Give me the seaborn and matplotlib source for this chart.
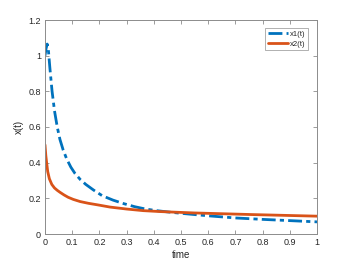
import numpy as np
import pandas as pd
import matplotlib
matplotlib.use("Agg")
import matplotlib.pyplot as plt
import seaborn as sns

# Data
t1 = [0, 0.004, 0.008, 0.012, 0.018, 0.026, 0.035, 0.045, 0.055, 0.067, 0.08, 0.095,
      0.11, 0.13, 0.15, 0.178, 0.21, 0.25, 0.29, 0.33, 0.37, 0.41, 0.45, 0.5, 0.6,
      0.7, 0.8, 0.9, 1.0]
x1 = [1.0, 1.04, 1.065, 1.04, 0.93, 0.8, 0.69, 0.6, 0.53, 0.47, 0.42, 0.375,
      0.34, 0.305, 0.278, 0.247, 0.215, 0.19, 0.17, 0.153, 0.14, 0.131, 0.124, 0.116, 0.102,
      0.09, 0.082, 0.075, 0.068]
t2 = [0, 0.003, 0.006, 0.01, 0.016, 0.025, 0.035, 0.045, 0.055, 0.07, 0.085, 0.104,
      0.129, 0.16, 0.195, 0.239, 0.3, 0.361, 0.42, 0.484, 0.55, 0.62, 0.69, 0.76, 0.84,
      0.92, 1.0]
x2 = [0.5, 0.44, 0.4, 0.35, 0.31, 0.278, 0.258, 0.245, 0.234, 0.219, 0.206, 0.194,
      0.182, 0.172, 0.163, 0.151, 0.14, 0.131, 0.126, 0.122, 0.118, 0.115, 0.112, 0.109,
      0.106, 0.103, 0.1]
series_names = ["x1(t)", "x2(t)"]
xticks = [0, 0.1, 0.2, 0.3, 0.4, 0.5, 0.6, 0.7, 0.8, 0.9, 1]
xtick_labels = ["0", "0.1", "0.2", "0.3", "0.4", "0.5", "0.6", "0.7", "0.8", "0.9", "1"]
yticks = [0, 0.2, 0.4, 0.6, 0.8, 1.0, 1.2]
ytick_labels = ["0", "0.2", "0.4", "0.6", "0.8", "1", "1.2"]

sns.set_theme(style="white")
plt.rcParams["font.family"] = ["Liberation Sans", "DejaVu Sans"]

fig = plt.figure(figsize=(3.5, 2.63), dpi=100)
ax = fig.add_axes([45 / 350, 29 / 263, 272 / 350, 214 / 263])

sns.lineplot(x=t1, y=x1, ax=ax, color="#0072BD", linewidth=2.0, label=series_names[0],
             sort=False)
ax.lines[-1].set_dashes([5, 1.5, 1.5, 1.5])
sns.lineplot(x=t2, y=x2, ax=ax, color="#D95319", linewidth=2.0, label=series_names[1],
             sort=False)

ax.set_xlim(0, 1)
ax.set_ylim(0, 1.2)
ax.set_xticks(xticks)
ax.set_xticklabels(xtick_labels)
ax.set_yticks(yticks)
ax.set_yticklabels(ytick_labels)

gray = "#262626"
for s in ax.spines.values():
    s.set_color("#8c8c8c")
    s.set_linewidth(0.7)
    s.set_visible(True)
ax.tick_params(direction="in", length=3, width=0.6, color="#8c8c8c",
               labelsize=6.5, labelcolor=gray, top=True, right=True,
               left=True, bottom=True, pad=3)
ax.set_xlabel("time", fontsize=7, color=gray, labelpad=2)
ax.set_ylabel("x(t)", fontsize=7, color=gray, labelpad=3)

leg = ax.legend(loc="upper right", bbox_to_anchor=(0.967, 0.963), fontsize=5.5,
                frameon=True, fancybox=False, handlelength=2.6, handletextpad=0.3,
                borderpad=0.35, labelspacing=0.3, borderaxespad=0.0)
leg.get_frame().set_edgecolor("#8c8c8c")
leg.get_frame().set_linewidth(0.6)
for txt in leg.get_texts():
    txt.set_color(gray)

fig.savefig("out.png", dpi=100)
